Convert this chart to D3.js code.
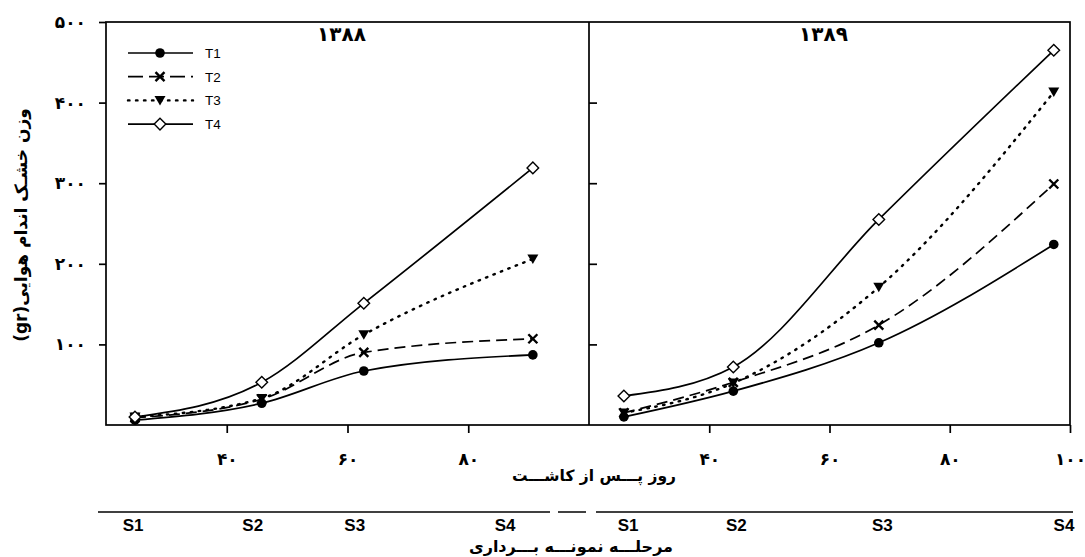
<!DOCTYPE html>
<html>
<head>
<meta charset="utf-8">
<script src="https://cdn.jsdelivr.net/npm/d3@7"></script>
<style>
  body { margin: 0; background: #fff; }
  svg { display: block; }
  .fa { font-family: "DejaVu Sans", sans-serif; font-weight: bold; }
  .lat { font-family: "Liberation Sans", Arial, sans-serif; }
</style>
</head>
<body>
<div id="chart"></div>
<script>
// days after planting for each sampling stage
var days1388 = [24.8, 45.8, 62.7, 90.7];
var days1389 = [25.8, 44.0, 68.2, 97.3];

// shoot dry weight (gr)
var t1_1388 = [6, 27, 67, 87];
var t2_1388 = [9, 32, 90, 107];
var t3_1388 = [10, 33, 112, 206];
var t4_1388 = [10, 53, 151, 319];

var t1_1389 = [10, 42, 102, 224];
var t2_1389 = [15, 53, 124, 299];
var t3_1389 = [15, 52, 171, 413];
var t4_1389 = [36, 72, 255, 465];

var treatments = ["T1", "T2", "T3", "T4"];
var yTicks = [100, 200, 300, 400, 500];
var xTicksLeft = [40, 60, 80];
var xTicksRight = [40, 60, 80, 100];
var stages = ["S1", "S2", "S3", "S4"];
// where the stage labels sit (in days)
var stagePos1388 = [24.5, 44.3, 61.2, 86.1];
var stagePos1389 = [26.5, 44.5, 68.8, 99];

var faDigits = "۰۱۲۳۴۵۶۷۸۹";
function fa(n) {
    return String(n).replace(/\d/g, function(d) { return faDigits[d]; });
}

var W = 1085, H = 557;
var plotTop = 22, plotBottom = 425;
var left1 = 106, mid = 589, right2 = 1070;

var svg = d3.select("#chart").append("svg")
    .attr("width", W)
    .attr("height", H);

var y = d3.scaleLinear().domain([0, 500]).range([plotBottom, plotTop]);
var x1 = d3.scaleLinear().domain([20, 100]).range([left1, mid]);
var x2 = d3.scaleLinear().domain([20, 100]).range([mid, right2]);

var styles = {
    T1: {dash: null, width: 1.7},
    T2: {dash: "11,6", width: 1.7},
    T3: {dash: "1.5,6.5", width: 2.4},
    T4: {dash: null, width: 1.7}
};

function drawMarker(g, type, cx, cy) {
    if (type == "T1") {
        g.append("circle").attr("cx", cx).attr("cy", cy).attr("r", 4.8).attr("fill", "#000");
    }
    else if (type == "T2") {
        var s = 4.5;
        g.append("path")
            .attr("d", "M" + (cx - s) + "," + (cy - s) + "L" + (cx + s) + "," + (cy + s) +
                "M" + (cx - s) + "," + (cy + s) + "L" + (cx + s) + "," + (cy - s))
            .attr("stroke", "#000").attr("stroke-width", 2.4).attr("fill", "none");
    }
    else if (type == "T3") {
        g.append("path")
            .attr("d", "M" + (cx - 5.5) + "," + (cy - 4.5) + "L" + (cx + 5.5) + "," + (cy - 4.5) +
                "L" + cx + "," + (cy + 5) + "Z")
            .attr("fill", "#000");
    }
    else {
        var d = 5.8;
        g.append("path")
            .attr("d", "M" + cx + "," + (cy - d) + "L" + (cx + d) + "," + cy +
                "L" + cx + "," + (cy + d) + "L" + (cx - d) + "," + cy + "Z")
            .attr("fill", "#fff").attr("stroke", "#000").attr("stroke-width", 1.4);
    }
}

function drawPanel(x, days, series) {
    var g = svg.append("g");
    var line = d3.line()
        .x(function(d, i) { return x(days[i]); })
        .y(function(d) { return y(d); })
        .curve(d3.curveMonotoneX);

    series.forEach(function(vals, k) {
        var st = styles[treatments[k]];
        g.append("path")
            .attr("d", line(vals))
            .attr("fill", "none")
            .attr("stroke", "#000")
            .attr("stroke-width", st.width)
            .attr("stroke-dasharray", st.dash)
            .attr("stroke-linecap", treatments[k] == "T3" ? "round" : "butt");
    });
    series.forEach(function(vals, k) {
        vals.forEach(function(v, i) {
            drawMarker(g, treatments[k], x(days[i]), y(v));
        });
    });
}

drawPanel(x1, days1388, [t1_1388, t2_1388, t3_1388, t4_1388]);
drawPanel(x2, days1389, [t1_1389, t2_1389, t3_1389, t4_1389]);

// frame
var frame = svg.append("g").attr("stroke", "#000").attr("stroke-width", 1.7).attr("fill", "none");
frame.append("rect").attr("x", left1).attr("y", plotTop)
    .attr("width", right2 - left1).attr("height", plotBottom - plotTop);
frame.append("line").attr("x1", mid).attr("x2", mid).attr("y1", plotTop).attr("y2", plotBottom);

function styleAxis(sel) {
    sel.select(".domain").remove();
    sel.selectAll(".tick line").attr("stroke", "#000").attr("stroke-width", 1.7);
    sel.selectAll(".tick text")
        .attr("class", "fa")
        .attr("fill", "#000")
        .style("font-size", "17px");
}

// bottom axes
svg.append("g")
    .attr("transform", "translate(0," + plotBottom + ")")
    .call(d3.axisBottom(x1).tickValues(xTicksLeft).tickSize(8).tickSizeOuter(0)
        .tickPadding(20).tickFormat(fa))
    .call(styleAxis);
svg.append("g")
    .attr("transform", "translate(0," + plotBottom + ")")
    .call(d3.axisBottom(x2).tickValues(xTicksRight).tickSize(8).tickSizeOuter(0)
        .tickPadding(20).tickFormat(fa))
    .call(styleAxis);

// left axis
svg.append("g")
    .attr("transform", "translate(" + left1 + ",0)")
    .call(d3.axisLeft(y).tickValues(yTicks).tickSize(7).tickSizeOuter(0)
        .tickPadding(13).tickFormat(fa))
    .call(styleAxis);

// inner ticks of the second panel
svg.append("g")
    .attr("transform", "translate(" + mid + ",0)")
    .call(d3.axisRight(y).tickValues(yTicks.slice(0, 4)).tickSize(8).tickSizeOuter(0).tickFormat(""))
    .call(styleAxis);

// panel titles
svg.append("text").attr("class", "fa").attr("x", x1(59)).attr("y", 41)
    .attr("text-anchor", "middle").style("font-size", "20px").text(fa(1388));
svg.append("text").attr("class", "fa").attr("x", x2(59)).attr("y", 41)
    .attr("text-anchor", "middle").style("font-size", "20px").text(fa(1389));

// legend
var legend = svg.append("g");
treatments.forEach(function(t, i) {
    var ly = 53 + i * 23.7;
    var st = styles[t];
    legend.append("line")
        .attr("x1", 128).attr("x2", 193).attr("y1", ly).attr("y2", ly)
        .attr("stroke", "#000").attr("stroke-width", st.width)
        .attr("stroke-dasharray", t == "T2" ? "15,6" : st.dash)
        .attr("stroke-linecap", t == "T3" ? "round" : "butt");
    drawMarker(legend, t, 160, ly);
    legend.append("text").attr("class", "lat")
        .attr("x", 205).attr("y", ly + 5)
        .style("font-size", "13.5px").text(t);
});

// axis titles
svg.append("text").attr("class", "fa")
    .attr("x", 594).attr("y", 481)
    .attr("text-anchor", "middle").attr("direction", "rtl")
    .style("font-size", "15.5px")
    .text("روز پـــس از کاشـــت");

svg.append("text").attr("class", "fa")
    .attr("transform", "translate(27,225) rotate(-90)")
    .attr("text-anchor", "middle").attr("direction", "rtl")
    .style("font-size", "17px")
    .text("وزن خشـک اندام هوایی(gr)");

// sampling stage strip
var strip = svg.append("g").attr("stroke", "#000").attr("stroke-width", 1.5);
[[98, 550], [558, 586], [596, 1073]].forEach(function(s) {
    strip.append("line").attr("x1", s[0]).attr("x2", s[1]).attr("y1", 512).attr("y2", 512);
});
stages.forEach(function(s, i) {
    svg.append("text").attr("class", "lat").attr("font-weight", "bold")
        .attr("x", x1(stagePos1388[i])).attr("y", 531)
        .attr("text-anchor", "middle").style("font-size", "17px").text(s);
    svg.append("text").attr("class", "lat").attr("font-weight", "bold")
        .attr("x", x2(stagePos1389[i])).attr("y", 531)
        .attr("text-anchor", "middle").style("font-size", "17px").text(s);
});

svg.append("text").attr("class", "fa")
    .attr("x", 571).attr("y", 552)
    .attr("text-anchor", "middle").attr("direction", "rtl")
    .style("font-size", "16px")
    .text("مرحلـــه نمونـــه بـــرداری");
</script>
</body>
</html>
